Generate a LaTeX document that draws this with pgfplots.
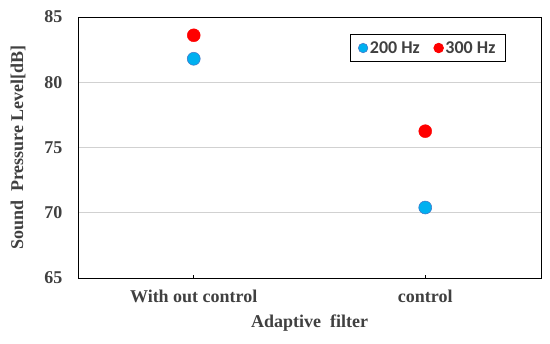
\documentclass[border=0pt]{standalone}
\usepackage{pgfplots}
\pgfplotsset{compat=1.18}
\usepackage{fontspec}
\setmainfont{Liberation Serif}
\newfontfamily\legfont{Carlito}
\definecolor{txtgray}{HTML}{404040}
\definecolor{cblue}{HTML}{00B0F0}
\definecolor{cblueedge}{HTML}{4472C4}
\definecolor{cred}{HTML}{FF0000}
\begin{document}
\begin{tikzpicture}[x=1pt,y=1pt]
\path[use as bounding box] (-78,-66) rectangle (472,278);
\begin{axis}[
  at={(0,0)}, anchor=south west,
  scale only axis, width=463pt, height=261pt,
  xmin=-0.5, xmax=1.5, ymin=65, ymax=85,
  xtick={0,1}, xticklabels={With out control, control},
  ytick={65,70,75,80,85},
  ymajorgrids, grid style={draw=black!18, line width=0.8pt},
  major tick length=3pt,
  xtick style={draw=black, line width=0.6pt},
  ytick style={draw=none},
  tick align=inside,
  xtick pos=bottom,
  axis line style={draw=black, line width=0.8pt},
  tick label style={font=\fontsize{18}{21}\selectfont\bfseries, text=txtgray},
  xticklabel style={yshift=-8pt},
  yticklabel style={xshift=-12pt},
  /pgf/number format/assume math mode=true,
  xlabel={Adaptive\ \ filter},
  ylabel={Sound\ \ Pressure\ Level[dB]},
  label style={font=\fontsize{18}{21}\selectfont\bfseries, text=txtgray},
  xlabel style={yshift=-6pt},
  ylabel style={yshift=12pt},
  legend style={at={(0.924,0.935)}, anchor=north east, draw=black, line width=0.8pt,
    font=\legfont\fontsize{18}{21}\selectfont\bfseries, text=txtgray,
    legend columns=2, inner xsep=8pt, inner ysep=5pt,
    /tikz/every even column/.append style={column sep=12pt}},
  legend image post style={mark size=4.8pt},
  legend cell align=left,
]
\addplot[only marks, mark=*, mark size=6.5pt, mark options={fill=cblue, draw=cblueedge, line width=0.5pt}]
  coordinates {(0,81.8) (1,70.4)};
\addlegendentry{200 Hz}
\addplot[only marks, mark=*, mark size=6.5pt, mark options={fill=cred, draw=cred}]
  coordinates {(0,83.6) (1,76.25)};
\addlegendentry{300 Hz}
\end{axis}
\end{tikzpicture}
\end{document}
